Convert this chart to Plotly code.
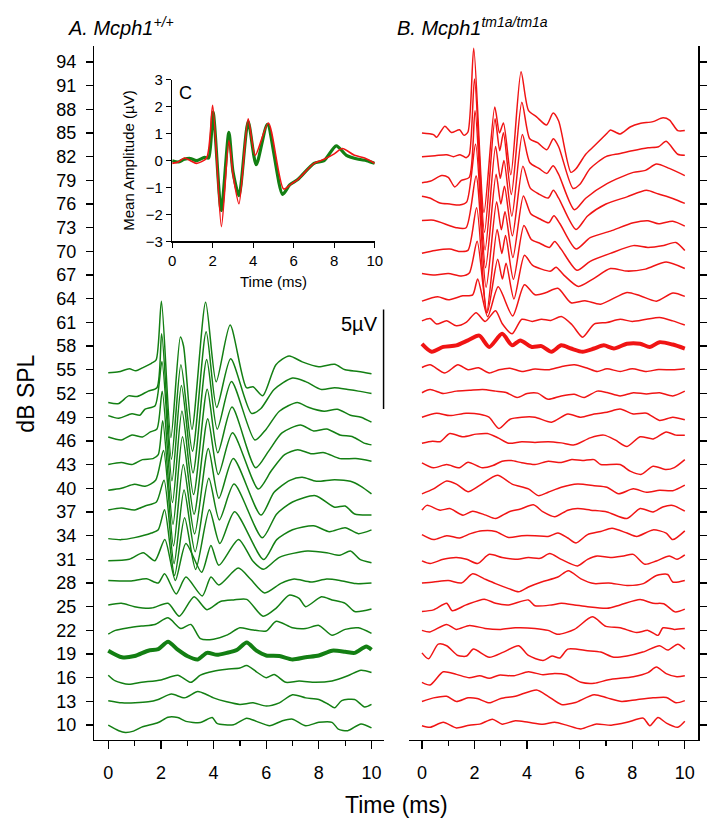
import plotly.graph_objects as go

GREEN = '#137f13'
RED = '#f01414'
FONT = 'Liberation Sans, Arial, sans-serif'

# 5 uV scale bar spans 102 px, one dB spans 8.06 px on the level axis
UV_TO_DB = 20.3 / 8.06

db_ticks = [10, 13, 16, 19, 22, 25, 28, 31, 34, 37, 40, 43, 46, 49, 52, 55,
            58, 61, 64, 67, 70, 73, 76, 79, 82, 85, 88, 91, 94]
time_ticks = [0, 2, 4, 6, 8, 10]
amp_ticks = [-3, -2, -1, 0, 1, 2, 3]

wt_threshold = 19
mut_threshold = 58

# ---- panel A, Mcph1 +/+  (time ms, amplitude uV) ----
wt_55 = [(0, -0.15), (0.4, -0.1), (0.8, 0.05), (1.05, -0.05), (1.3, 0.1), (1.64, 0.33), (1.82, 0.5),
         (2.02, 3.45), (2.38, -3.4), (2.74, 1.65), (2.86, 1.2), (3.18, -3.0), (3.7, 3.4), (4.1, -0.6),
         (4.63, 2.25), (5.25, -0.9), (5.5, -0.85), (5.87, -1.3), (6.37, 0.26), (6.87, 0.7), (7.37, 0.4),
         (7.99, 0.16), (8.6, 0.28), (9.0, 0.0), (9.5, -0.08), (10, -0.2)]
wt_52 = [(0, -0.45), (0.4, -0.5), (0.77, -0.12), (1.1, -0.15), (1.52, 0.12), (1.85, 0.29), (2.03, 3.0),
         (2.4, -3.3), (2.76, 1.45), (3.2, -2.9), (3.72, 3.1), (4.12, -0.7), (4.65, 1.75), (5.44, -1.0),
         (5.8, -0.75), (6.3, 0.2), (7.0, 0.78), (7.5, 0.6), (8.1, 0.2), (8.6, 0.29), (9.1, 0.2),
         (9.5, 0.12), (10, 0.0)]
wt_49 = [(0, 0.08), (0.4, -0.05), (0.9, 0.17), (1.2, 0.1), (1.4, 0.41), (1.78, 0.58), (2.04, 2.8),
         (2.42, -3.2), (2.78, 1.6), (3.22, -2.8), (3.74, 2.9), (4.14, -0.6), (4.68, 1.8), (5.57, -1.15),
         (6.0, -0.6), (6.5, 0.3), (7.18, 0.74), (7.6, 0.5), (8.2, 0.3), (8.7, 0.4), (9.2, 0.1),
         (9.6, 0.0), (10, -0.25)]
wt_46 = [(0, 0.2), (0.5, 0.05), (0.9, 0.3), (1.3, 0.2), (1.6, 0.45), (1.85, 0.6), (2.05, 2.5),
         (2.44, -3.1), (2.8, 1.5), (3.24, -2.7), (3.76, 2.6), (4.16, -0.6), (4.7, 1.7), (5.6, -1.35),
         (6.1, -0.5), (6.6, 0.4), (7.3, 0.8), (7.8, 0.5), (8.3, 0.6), (8.8, 0.3), (9.3, 0.2),
         (9.7, -0.1), (10, -0.2)]
wt_43 = [(0, 0.0), (0.5, 0.1), (0.9, 0.0), (1.3, 0.25), (1.7, 0.3), (1.9, 0.5), (2.07, 2.2),
         (2.46, -3.0), (2.82, 1.4), (3.26, -2.5), (3.78, 2.3), (4.18, -0.5), (4.72, 1.6), (5.7, -1.23),
         (6.2, -0.3), (6.7, 0.5), (7.2, 0.75), (7.7, 0.55), (8.2, 0.6), (8.8, 0.3), (9.4, 0.3), (10, 0.17)]
wt_40 = [(0, -0.1), (0.5, 0.0), (1.0, 0.2), (1.4, 0.1), (1.8, 0.4), (2.1, 1.9), (2.48, -2.9),
         (2.85, 1.2), (3.28, -2.3), (3.8, 2.0), (4.2, -0.5), (4.75, 1.5), (5.8, -1.35), (6.3, -0.2),
         (6.9, 0.4), (7.37, 0.55), (7.9, 0.35), (8.6, 0.43), (9.2, 0.35), (9.6, 0.1), (10, -0.28)]
wt_37 = [(0, 0.1), (0.5, 0.2), (1.0, 0.1), (1.4, 0.3), (1.83, 0.5), (2.12, 1.6), (2.5, -2.6),
         (2.88, 1.1), (3.3, -2.0), (3.82, 1.7), (4.22, -0.4), (4.78, 1.4), (5.85, -1.3), (6.4, -0.1),
         (7.0, 0.5), (7.87, 0.82), (8.6, 0.24), (9.0, 0.3), (9.36, -0.1), (10, -0.15)]
wt_34 = [(0, -0.15), (0.5, -0.2), (1.0, -0.1), (1.64, 0.13), (1.9, 0.3), (2.14, 1.3), (2.52, -2.0),
         (2.9, 0.9), (3.32, -1.7), (3.84, 1.3), (4.24, -0.4), (4.8, 1.2), (5.9, -1.2), (6.4, -0.2),
         (7.0, 0.3), (7.8, 0.5), (8.4, 0.2), (9.0, 0.4), (9.5, 0.1), (10, 0.29)]
wt_31 = [(0, -0.07), (0.8, 0.0), (1.33, 0.33), (1.77, -0.07), (2.15, 1.0), (2.55, -1.06), (2.95, 0.8),
         (3.55, -0.65), (3.9, 0.7), (4.2, -0.3), (4.95, 1.0), (5.5, -0.1), (5.9, -0.5), (6.5, 0.1),
         (7.56, 0.42), (8.3, 0.33), (8.8, 0.2), (9.2, 0.42), (9.56, 0.0), (10, -0.17)]
wt_28 = [(0, 0.13), (0.83, 0.1), (1.46, 0.21), (1.9, 0.0), (2.14, 0.46), (2.58, -0.55), (2.95, 0.3),
         (3.57, -0.65), (3.9, 0.3), (4.2, -0.1), (4.94, 0.75), (5.4, 0.2), (5.94, -0.5), (6.56, -0.02),
         (7.06, 0.2), (7.7, 0.05), (8.3, 0.2), (8.8, 0.13), (9.4, -0.03), (10, 0.0)]
wt_25 = [(0, 0.09), (0.5, 0.17), (1.0, 0.0), (1.64, -0.07), (2.27, 0.17), (2.7, -0.48), (3.26, 0.5),
         (3.75, -0.15), (4.26, 0.26), (4.76, 0.34), (5.26, 0.37), (5.88, -0.48), (6.38, -0.07),
         (6.87, 0.58), (7.25, 0.42), (7.5, 0.0), (8.1, 0.5), (8.5, 0.34), (9.0, 0.17), (9.36, -0.24),
         (10, -0.12)]
wt_22 = [(0, -0.19), (0.27, 0.0), (0.77, 0.13), (1.27, 0.22), (1.77, 0.3), (2.27, 0.63), (2.76, 0.09),
         (3.14, 0.3), (3.5, -0.41), (4.0, -0.44), (4.5, -0.24), (5.0, 0.13), (5.38, 0.05), (6.0, -0.03),
         (6.38, 0.46), (7.0, 0.13), (7.5, 0.09), (8.0, 0.25), (8.5, -0.24), (9.0, 0.05), (9.5, 0.13),
         (10, -0.15)]
wt_19 = [(0, 0.17), (0.52, -0.16), (1.0, -0.1), (1.52, 0.17), (1.9, 0.25), (2.27, 0.62), (2.64, 0.22),
         (3.0, -0.1), (3.4, -0.27), (3.75, 0.06), (4.13, -0.04), (4.5, 0.06), (4.9, 0.22), (5.26, 0.58),
         (5.63, 0.17), (6.0, -0.07), (6.5, -0.1), (7.0, -0.27), (7.5, -0.16), (8.0, -0.07), (8.5, 0.17),
         (9.0, 0.12), (9.36, 0.06), (9.8, 0.38), (10, 0.22)]
wt_16 = [(0, 0.13), (0.27, -0.16), (0.77, -0.33), (1.27, -0.23), (2.0, -0.11), (2.64, 0.13),
         (3.14, -0.23), (3.5, 0.13), (4.0, 0.33), (4.5, 0.43), (5.0, 0.49), (5.26, 0.62), (5.63, 0.3),
         (6.0, 0.0), (6.3, 0.16), (6.75, -0.23), (7.25, -0.16), (7.87, -0.23), (8.5, -0.16), (9.1, 0.1),
         (9.6, 0.38), (10, 0.26)]
wt_13 = [(0, 0.04), (0.52, -0.07), (1.02, -0.07), (1.52, -0.02), (1.9, 0.1), (2.4, 0.37), (2.9, 0.18),
         (3.4, 0.5), (3.75, 0.34), (4.0, 0.18), (4.5, -0.02), (5.0, -0.15), (5.5, -0.07), (6.0, -0.23),
         (6.5, -0.07), (7.0, 0.34), (7.5, 0.18), (8.0, 0.1), (8.37, -0.15), (8.6, -0.32), (8.87, 0.04),
         (9.36, 0.1), (9.74, -0.28), (10, -0.15)]
wt_10 = [(0, 0.0), (0.4, -0.28), (0.65, -0.37), (0.96, -0.3), (1.27, -0.1), (1.9, 0.13), (2.27, 0.4),
         (2.64, 0.38), (2.95, 0.19), (3.5, 0.13), (3.95, 0.38), (4.13, 0.09), (4.76, 0.02), (5.26, 0.35),
         (5.63, 0.19), (6.13, -0.03), (6.62, 0.22), (7.0, 0.3), (7.5, -0.03), (8.0, 0.14), (8.5, 0.14),
         (8.74, -0.2), (9.1, -0.28), (9.6, 0.06), (10, -0.14)]

# ---- panel B, Mcph1 tm1a/tm1a ----
mut_85 = [(0, 0.0), (0.44, -0.08), (0.56, -0.22), (0.87, 0.34), (1.12, 0.02), (1.43, 0.16), (1.6, -0.12),
          (1.75, 0.05), (1.97, 4.26), (2.36, -4.0), (2.77, 1.3), (2.95, 0.0), (3.1, 0.5), (3.38, -2.1),
          (3.77, 3.08), (4.05, 1.14), (4.36, 0.81), (4.74, 0.4), (4.99, 1.0), (5.2, 0.6), (5.67, -1.98),
          (5.86, -1.8), (6.23, -1.07), (6.55, -0.66), (7.05, 0.0), (7.17, 0.15), (7.54, -0.05),
          (7.92, 0.3), (8.29, 0.48), (8.79, 0.57), (9.17, 0.76), (9.42, 0.65), (9.73, 0.12), (10, 0.12)]
mut_82 = [(0, 0.0), (0.5, 0.05), (0.94, 0.1), (1.2, 0.0), (1.45, 0.1), (1.68, -0.05), (1.8, 0.1),
          (2.0, 3.9), (2.38, -3.8), (2.78, 1.9), (2.96, 0.3), (3.1, 1.2), (3.4, -1.9), (3.8, 2.74),
          (4.1, 0.9), (4.4, 0.7), (4.75, 0.35), (5.0, 0.9), (5.2, 0.5), (5.75, -1.6), (6.0, -1.4),
          (6.4, -0.6), (7.0, 0.0), (7.5, 0.15), (8.0, 0.3), (8.6, 0.45), (9.0, 0.5), (9.29, 0.77),
          (9.73, 0.12), (10, 0.07)]
mut_79 = [(0, -0.12), (0.31, -0.05), (0.75, 0.24), (1.0, 0.15), (1.25, -0.33), (1.5, 0.0), (1.8, 0.15),
          (2.02, 3.5), (2.4, -3.5), (2.8, 1.7), (2.98, 0.1), (3.12, 1.0), (3.42, -1.8), (3.82, 2.3),
          (4.1, 0.9), (4.45, 0.6), (4.75, 0.35), (4.99, 0.73), (5.2, 0.3), (5.8, -1.48), (6.23, -0.9),
          (7.04, -0.17), (8.04, 0.4), (8.5, 0.5), (8.92, 0.82), (9.41, 0.6), (10, 0.24)]
mut_76 = [(0, 0.39), (0.3, 0.3), (0.69, 0.05), (1.06, 0.0), (1.43, -0.05), (1.7, 0.1), (2.04, 3.0),
          (2.42, -3.2), (2.82, 1.5), (3.0, 0.0), (3.14, 0.9), (3.44, -1.6), (3.84, 1.9), (4.12, 0.8),
          (4.45, 0.5), (4.8, 0.3), (5.0, 0.69), (5.2, 0.3), (5.86, -1.28), (6.3, -0.6), (7.0, 0.0),
          (7.8, 0.36), (8.54, 0.69), (9.0, 0.5), (9.54, 0.28), (10, 0.03)]
mut_73 = [(0, 0.36), (0.45, 0.38), (1.06, 0.1), (1.3, 0.0), (1.68, 0.0), (2.06, 2.6), (2.44, -3.0),
          (2.84, 1.3), (3.02, -0.1), (3.16, 0.8), (3.46, -1.5), (3.86, 1.6), (4.14, 0.7), (4.47, 0.45),
          (4.82, 0.25), (5.02, 0.6), (5.25, 0.2), (5.86, -1.07), (6.4, -0.5), (7.17, -0.17), (8.04, 0.25),
          (8.6, 0.35), (9.0, 0.2), (9.54, 0.33), (10, 0.08)]
mut_70 = [(0, -0.09), (0.5, 0.05), (1.06, 0.12), (1.4, 0.0), (1.75, 0.05), (2.08, 2.2), (2.46, -3.1),
          (2.86, 1.1), (3.04, -0.1), (3.18, 0.8), (3.48, -1.4), (3.88, 1.3), (4.16, 0.6), (4.5, 0.4),
          (4.85, 0.2), (5.05, 0.5), (5.3, 0.1), (5.9, -0.95), (6.4, -0.5), (7.17, -0.1), (8.04, 0.29),
          (8.6, 0.2), (9.2, 0.3), (9.66, 0.45), (10, 0.04)]
mut_67 = [(0, 0.08), (0.5, 0.0), (1.0, 0.08), (1.5, -0.05), (1.8, 0.1), (2.1, 1.7), (2.48, -1.9),
          (2.88, 0.8), (3.06, -0.2), (3.2, 0.6), (3.5, -1.2), (3.9, 1.0), (4.2, 0.5), (4.55, 0.3),
          (4.9, 0.2), (5.1, 0.4), (5.4, 0.0), (5.95, -0.57), (6.5, -0.2), (7.17, 0.33), (7.8, 0.2),
          (8.5, 0.3), (9.29, 0.66), (10, 0.33)]
mut_64 = [(0, -0.12), (0.6, 0.1), (1.0, -0.05), (1.55, 0.15), (1.93, 0.2), (2.12, 1.0), (2.5, -0.9),
          (2.9, 0.6), (3.45, -0.86), (3.9, 0.7), (4.3, 0.2), (4.7, 0.3), (5.17, 0.53), (5.67, -0.2),
          (6.2, -0.1), (6.8, -0.27), (7.8, 0.32), (8.3, 0.15), (8.92, -0.12), (9.55, 0.29), (10, 0.12)]
mut_61 = [(0, 0.08), (0.31, 0.2), (0.56, -0.08), (0.94, 0.08), (1.31, -0.17), (1.68, 0.0), (2.06, 0.49),
          (2.4, 0.05), (2.8, 0.59), (3.05, -0.05), (3.43, -0.57), (3.8, 0.16), (4.2, 0.05), (4.55, 0.16),
          (4.9, 0.1), (5.3, 0.3), (5.7, -0.1), (6.11, -0.74), (6.55, -0.08), (7.04, 0.0), (7.54, 0.16),
          (8.0, 0.05), (8.54, 0.16), (9.04, 0.25), (9.54, 0.08), (10, -0.13)]
mut_58 = [(0, 0.12), (0.37, -0.28), (0.81, -0.04), (1.31, 0.04), (1.75, 0.29), (2.18, 0.53), (2.56, -0.04),
          (3.05, 0.62), (3.43, 0.04), (3.74, 0.29), (4.18, -0.04), (4.55, 0.0), (4.93, -0.28), (5.3, 0.04),
          (5.67, -0.12), (6.11, -0.28), (6.55, -0.12), (6.92, 0.04), (7.3, -0.12), (7.8, 0.12), (8.3, 0.12),
          (8.67, -0.04), (9.04, 0.2), (9.54, 0.08), (10, -0.12)]
mut_55 = [(0, 0.12), (0.31, 0.25), (0.87, -0.16), (1.37, 0.25), (1.75, 0.0), (2.15, 0.1), (2.56, -0.16),
          (2.93, 0.0), (3.35, 0.08), (3.8, -0.08), (4.3, 0.04), (4.8, 0.0), (5.3, 0.16), (5.8, 0.25),
          (6.3, 0.08), (6.67, -0.08), (7.04, 0.05), (7.54, -0.08), (8.0, 0.05), (8.54, -0.08), (9.0, 0.02),
          (9.54, 0.0), (10, 0.05)]
mut_52 = [(0, 0.04), (0.31, 0.2), (0.81, 0.0), (1.31, 0.12), (1.81, 0.16), (2.31, 0.2), (2.8, 0.12),
          (3.2, 0.05), (3.62, -0.2), (4.0, 0.0), (4.4, 0.02), (4.8, -0.29), (5.3, -0.12), (5.8, -0.04),
          (6.17, -0.2), (6.67, 0.12), (7.04, 0.05), (7.54, -0.12), (8.04, 0.04), (8.54, -0.02), (9.04, 0.04),
          (9.54, -0.12), (10, 0.12)]
mut_49 = [(0, 0.0), (0.56, 0.2), (1.06, 0.08), (1.68, 0.2), (2.2, 0.15), (2.55, 0.0), (2.93, -0.57),
          (3.35, -0.1), (3.8, 0.0), (4.3, 0.0), (4.93, -0.25), (5.55, 0.16), (6.05, 0.0), (6.55, 0.16),
          (7.04, 0.25), (7.54, 0.41), (8.04, 0.16), (8.54, 0.2), (9.04, -0.16), (9.54, 0.0), (10, -0.13)]
mut_46 = [(0, -0.12), (0.4, -0.02), (0.69, -0.04), (1.06, 0.37), (1.56, 0.21), (2.06, 0.34), (2.49, 0.37),
          (2.9, 0.15), (3.3, -0.12), (3.8, -0.04), (4.3, -0.08), (4.8, -0.04), (5.3, -0.1), (5.8, -0.2),
          (6.4, 0.15), (6.92, 0.29), (7.35, 0.05), (7.8, -0.28), (8.3, 0.21), (8.8, 0.1), (9.29, 0.45),
          (9.66, 0.29), (10, 0.29)]
mut_43 = [(0, 0.09), (0.44, -0.16), (0.94, 0.0), (1.43, -0.16), (1.75, 0.12), (2.3, -0.16), (2.7, -0.05),
          (3.05, 0.17), (3.4, 0.2), (3.8, 0.09), (4.3, 0.0), (4.8, 0.17), (5.3, 0.1), (5.7, 0.25), (6.1, 0.2),
          (6.55, 0.25), (6.8, 0.0), (7.54, 0.0), (7.92, -0.33), (8.35, -0.49), (8.79, -0.08), (9.29, -0.25),
          (9.6, -0.15), (10, 0.25)]
mut_40 = [(0, -0.28), (0.44, -0.03), (0.94, 0.37), (1.31, 0.21), (1.75, -0.17), (2.18, 0.13), (2.87, 0.66),
          (3.43, 0.21), (4.05, -0.03), (4.43, -0.37), (4.8, -0.2), (5.3, 0.05), (5.92, 0.21), (6.55, 0.13),
          (7.04, 0.05), (7.48, -0.28), (8.04, -0.03), (8.54, -0.2), (9.04, -0.1), (9.54, -0.12), (10, 0.16)]
mut_37 = [(0, 0.09), (0.19, 0.33), (0.69, 0.09), (1.06, 0.17), (1.56, -0.16), (1.93, 0.04), (2.43, -0.16),
          (2.8, -0.33), (3.3, 0.0), (3.75, 0.15), (4.24, 0.36), (4.61, 0.0), (5.05, -0.24), (5.55, 0.09),
          (5.92, 0.17), (6.42, 0.09), (7.04, 0.0), (7.8, -0.33), (8.3, 0.17), (8.79, 0.0), (9.16, 0.25),
          (9.54, 0.33), (10, 0.04)]
mut_34 = [(0, 0.05), (0.44, -0.2), (0.94, 0.0), (1.43, -0.12), (1.85, 0.1), (2.3, 0.24), (2.8, 0.21),
          (3.3, -0.09), (3.8, 0.0), (4.3, 0.0), (4.8, -0.04), (5.17, 0.13), (5.55, -0.12), (5.86, -0.37),
          (6.3, 0.05), (6.8, 0.21), (7.23, 0.37), (7.8, 0.13), (8.17, -0.04), (8.79, 0.29), (9.29, 0.13),
          (9.54, -0.2), (10, 0.24)]
mut_31 = [(0, -0.08), (0.31, -0.21), (0.81, 0.0), (1.31, 0.09), (1.7, 0.0), (2.12, -0.21), (2.56, 0.25),
          (3.05, 0.09), (3.55, 0.0), (4.05, 0.09), (4.5, 0.05), (4.86, 0.29), (5.3, 0.0), (5.92, -0.33),
          (6.3, 0.0), (6.67, 0.17), (7.17, 0.09), (7.67, 0.17), (8.04, 0.25), (8.48, -0.25), (8.92, -0.08),
          (9.41, 0.17), (9.7, 0.0), (10, 0.22)]
mut_28 = [(0, 0.0), (0.44, 0.05), (1.0, 0.13), (1.5, 0.0), (1.93, 0.46), (2.37, 0.21), (2.8, -0.03),
          (3.3, -0.28), (3.68, -0.44), (4.05, -0.2), (4.55, 0.05), (5.17, 0.3), (5.57, 0.62), (6.05, 0.21),
          (6.55, -0.03), (7.1, 0.0), (7.8, -0.12), (8.42, -0.03), (8.92, 0.38), (9.35, 0.43), (9.54, 0.05),
          (10, 0.13)]
mut_25 = [(0, -0.24), (0.44, -0.16), (0.94, 0.17), (1.15, -0.2), (1.68, 0.09), (2.37, 0.38), (2.8, 0.17),
          (3.3, 0.09), (4.05, 0.34), (4.3, 0.05), (4.93, 0.09), (5.3, 0.17), (5.8, 0.09), (6.3, 0.0),
          (7.04, -0.08), (7.54, 0.09), (8.3, 0.36), (8.79, 0.17), (9.2, 0.15), (9.63, -0.26), (10, -0.12)]
mut_22 = [(0, 0.0), (0.3, -0.08), (0.94, 0.3), (1.3, 0.05), (1.81, 0.25), (2.4, 0.1), (3.0, 0.05),
          (3.55, 0.13), (4.3, 0.1), (4.8, 0.0), (5.17, -0.2), (5.8, 0.05), (6.48, 0.68), (7.0, 0.2),
          (7.54, 0.13), (8.17, -0.11), (8.6, 0.0), (8.98, -0.25), (9.17, 0.13), (9.6, 0.05), (10, 0.09)]
mut_19 = [(0, 0.06), (0.25, -0.24), (0.62, 0.5), (0.94, 0.42), (1.37, -0.07), (1.7, -0.1), (1.96, 0.25),
          (2.56, -0.16), (3.1, 0.1), (3.68, 0.42), (4.05, -0.07), (4.61, -0.32), (4.95, -0.1), (5.24, -0.2),
          (5.55, 0.25), (6.3, 0.17), (6.8, 0.1), (7.3, -0.16), (7.8, -0.1), (8.4, 0.1), (9.04, 0.42),
          (9.35, 0.2), (9.73, 0.5), (10, 0.25)]
mut_16 = [(0, -0.23), (0.31, -0.36), (0.81, 0.3), (1.31, 0.17), (1.8, 0.0), (2.2, 0.1), (2.56, -0.03),
          (2.93, 0.13), (3.5, 0.1), (4.05, 0.3), (4.6, 0.15), (5.05, 0.22), (5.5, 0.15), (6.05, -0.23),
          (6.55, -0.28), (7.1, -0.1), (8.04, 0.05), (8.6, 0.26), (8.92, 0.54), (9.29, 0.21), (9.7, 0.05),
          (10, 0.1)]
mut_13 = [(0, 0.0), (0.44, 0.18), (0.94, 0.26), (1.31, 0.0), (1.75, 0.18), (2.1, 0.15), (2.56, -0.07),
          (3.0, 0.15), (3.55, 0.26), (4.36, 0.58), (4.8, 0.26), (5.3, -0.15), (5.8, -0.07), (6.55, 0.34),
          (7.05, 0.18), (7.6, 0.0), (8.17, 0.09), (8.79, 0.18), (9.3, 0.2), (9.66, -0.07), (10, 0.04)]
mut_10 = [(0, -0.03), (0.31, -0.11), (0.81, 0.14), (1.31, -0.14), (1.8, 0.0), (2.2, 0.05), (2.68, 0.3),
          (3.05, 0.05), (3.55, 0.22), (4.05, 0.14), (4.6, 0.05), (5.05, 0.14), (5.5, 0.0), (6.05, -0.19),
          (6.6, 0.05), (7.2, 0.0), (7.8, 0.14), (8.42, 0.35), (8.67, -0.03), (8.98, 0.38), (9.3, 0.1),
          (9.73, -0.11), (10, 0.19)]

# ---- inset C, mean amplitude ----
mean_wt = [(0, 0.0), (0.3, -0.05), (0.6, 0.05), (0.9, 0.08), (1.2, 0.0), (1.6, 0.12), (1.8, 0.1),
           (2.02, 1.8), (2.42, -1.85), (2.8, 1.05), (3.0, -0.4), (3.3, -1.3), (3.75, 1.45), (4.15, -0.15),
           (4.7, 1.35), (5.45, -1.25), (5.8, -0.9), (6.2, -0.7), (7.0, -0.1), (7.5, 0.0), (8.1, 0.55),
           (8.6, 0.2), (9.2, 0.05), (9.6, 0.0), (10, -0.1)]
mean_mut = [(0, -0.1), (0.3, -0.05), (0.6, 0.1), (0.9, 0.0), (1.2, -0.1), (1.7, 0.1), (2.0, 2.05),
            (2.43, -2.45), (2.8, 0.75), (3.0, -0.5), (3.3, -1.6), (3.75, 1.55), (4.1, 0.2), (4.75, 1.4),
            (5.5, -1.05), (5.9, -0.85), (6.2, -0.7), (7.0, -0.1), (7.5, 0.05), (8.0, 0.25), (8.4, 0.45),
            (9.0, 0.2), (9.5, 0.1), (10, -0.1)]

wt_traces = [(55, wt_55), (52, wt_52), (49, wt_49), (46, wt_46), (43, wt_43), (40, wt_40),
             (37, wt_37), (34, wt_34), (31, wt_31), (28, wt_28), (25, wt_25), (22, wt_22),
             (19, wt_19), (16, wt_16), (13, wt_13), (10, wt_10)]
mut_traces = [(85, mut_85), (82, mut_82), (79, mut_79), (76, mut_76), (73, mut_73), (70, mut_70),
              (67, mut_67), (64, mut_64), (61, mut_61), (58, mut_58), (55, mut_55), (52, mut_52),
              (49, mut_49), (46, mut_46), (43, mut_43), (40, mut_40), (37, mut_37), (34, mut_34),
              (31, mut_31), (28, mut_28), (25, mut_25), (22, mut_22), (19, mut_19), (16, mut_16),
              (13, mut_13), (10, mut_10)]

W, H = 724, 836


def px(x):
    return x / W


def py(y):
    return 1 - y / H


fig = go.Figure()


def add_panel(traces, thr, color, xa, ya):
    for level, pts in traces:
        fig.add_trace(go.Scatter(
            x=[p[0] for p in pts],
            y=[level + UV_TO_DB * p[1] for p in pts],
            mode='lines', xaxis=xa, yaxis=ya, hoverinfo='skip',
            line=dict(color=color, width=4 if level == thr else 1.5,
                      shape='spline', smoothing=0.7)))


add_panel(wt_traces, wt_threshold, GREEN, 'x', 'y')
add_panel(mut_traces, mut_threshold, RED, 'x2', 'y2')

for pts, color, width in [(mean_wt, GREEN, 3.2), (mean_mut, RED, 1.6)]:
    fig.add_trace(go.Scatter(
        x=[p[0] for p in pts], y=[p[1] for p in pts],
        mode='lines', xaxis='x3', yaxis='y3', hoverinfo='skip',
        line=dict(color=color, width=width, shape='spline', smoothing=0.7)))

# 5 uV scale bar, drawn in the level axis units
scale_uv = 5
scale_base = 50.05
fig.add_shape(type='line', xref='x', yref='y', x0=10.48, x1=10.48,
              y0=scale_base, y1=scale_base + scale_uv * UV_TO_DB,
              line=dict(color='black', width=2.6))

axis_common = dict(showgrid=False, zeroline=False, showline=True, linecolor='black',
                   linewidth=1.5, ticks='outside', tickcolor='black', tickwidth=1.3,
                   tickfont=dict(family=FONT, size=18, color='black'))
y_range = [10 - (745.7 - 731) / 8.06, 94 + (54 - 38) / 8.06]

fig.update_layout(
    width=W, height=H, margin=dict(l=0, r=0, t=0, b=0),
    paper_bgcolor='white', plot_bgcolor='rgba(0,0,0,0)', showlegend=False,
    hovermode=False,
    xaxis=dict(axis_common, domain=[px(92), px(386.7)], range=[-0.523, 10.486], anchor='y',
               tickvals=time_ticks, ticklen=8, ticklabelstandoff=8,
               minor=dict(tickvals=[1, 3, 5, 7, 9], ticklen=5, ticks='outside',
                          tickcolor='black', tickwidth=1.3)),
    yaxis=dict(axis_common, domain=[py(745.7), py(38)], range=y_range, anchor='x',
               tickvals=db_ticks, ticklen=7, ticklabelstandoff=6),
    xaxis2=dict(axis_common, domain=[px(411.7), px(706)], range=[-0.4976, 10.513], anchor='y2',
                tickvals=time_ticks, ticklen=8, ticklabelstandoff=8,
                minor=dict(tickvals=[1, 3, 5, 7, 9], ticklen=5, ticks='outside',
                           tickcolor='black', tickwidth=1.3)),
    yaxis2=dict(axis_common, domain=[py(745.7), py(38)], range=y_range, anchor='x2',
                side='right', tickvals=db_ticks, ticklen=7, showticklabels=False),
    xaxis3=dict(axis_common, domain=[px(171), px(377)], range=[0, 10], anchor='y3',
                tickvals=time_ticks, ticklen=5, linewidth=1.3,
                tickfont=dict(family=FONT, size=15, color='black')),
    yaxis3=dict(axis_common, domain=[py(237.3), py(72.3)], range=[-3, 3], anchor='x3',
                tickvals=amp_ticks, ticklen=5, linewidth=1.3,
                tickfont=dict(family=FONT, size=15, color='black')),
)

ann = [
    dict(text='dB SPL', x=px(22), y=py(393), textangle=-90, font=dict(size=23)),
    dict(text='Time (ms)', x=px(399), y=py(813), font=dict(size=23)),
    dict(text='<i>A. Mcph1<sup>+/+</sup></i>', x=px(63), y=py(18), xanchor='left', font=dict(size=20)),
    dict(text='<i>B. Mcph1<sup>tm1a/tm1a</sup></i>', x=px(398), y=py(18), xanchor='left', font=dict(size=20)),
    dict(text='5µV', x=px(382), y=py(322), xanchor='right', font=dict(size=20)),
    dict(text='C', x=px(185), y=py(86), font=dict(size=18)),
    dict(text='Mean Amplitude (µV)', x=px(127), y=py(155), textangle=-90, font=dict(size=15)),
    dict(text='Time (ms)', x=px(274), y=py(278), font=dict(size=15)),
]
for a in ann:
    a.setdefault('xanchor', 'center')
    a['font'] = dict(family=FONT, color='black', **a['font'])
    fig.add_annotation(xref='paper', yref='paper', yanchor='middle', showarrow=False, **a)

fig.write_html('out.html', config={'displayModeBar': False, 'staticPlot': True},
               post_script="document.body.style.margin='0';")
